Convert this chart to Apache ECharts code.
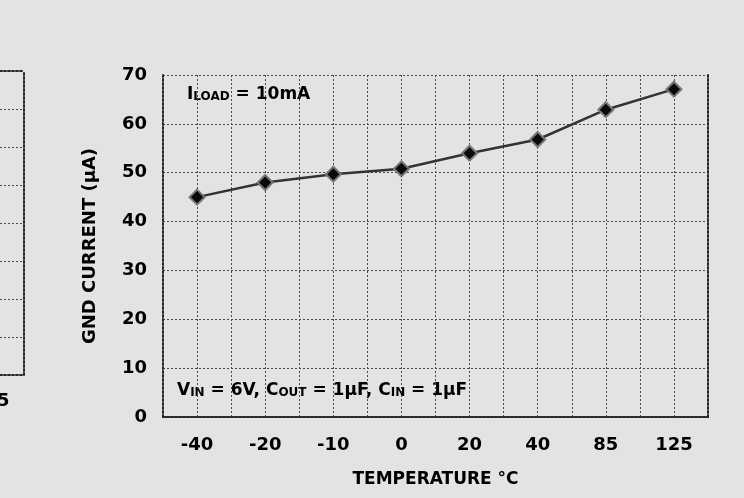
<!DOCTYPE html>
<html>
<head>
<meta charset="utf-8">
<script src="https://cdn.jsdelivr.net/npm/echarts@6/dist/echarts.min.js"></script>
<style>
html,body{margin:0;padding:0;background:#e3e3e3;}
#c{width:744px;height:498px;}
</style>
</head>
<body>
<div id="c"></div>
<script>
// Data
const categories = ['-40', '-20', '-10', '0', '20', '40', '85', '125'];
const gndCurrent = [45.0, 48.0, 49.7, 50.8, 54.0, 56.8, 62.9, 67.1];
const yMin = 0, yMax = 70, yStep = 10;
const xAxisTitle = 'TEMPERATURE \u00B0C';
const yAxisTitle = 'GND CURRENT (\u00B5A)';
const noteLoad = ['I', 'LOAD', ' = 10mA'];
const noteCond = ['V', 'IN', ' = 6V, C', 'OUT', ' = 1\u00B5F, C', 'IN', ' = 1\u00B5F'];
const neighbourLabel = '5';

const FONT = '"DejaVu Sans", Verdana, sans-serif';
const dash = { color: '#4a4a4a', width: 1, type: [2, 2] };
const border = { color: '#262626', width: 2, type: 'dotted' };

function rich(parts) {
  return parts.map((p, i) => (i % 2 === 0 ? '{a|' + p + '}' : '{b|' + p + '}')).join('');
}
const richStyle = {
  a: { fontSize: 17, fontWeight: 'bold', fontFamily: FONT, color: '#000', lineHeight: 20, verticalAlign: 'bottom' },
  b: { fontSize: 12, fontWeight: 'bold', fontFamily: FONT, color: '#000', lineHeight: 15, verticalAlign: 'bottom' }
};

const chart = echarts.init(document.getElementById('c'), null, { renderer: 'canvas' });
chart.setOption({
  backgroundColor: '#e3e3e3',
  animation: false,
  grid: [
    { left: 163, right: 36, top: 75, bottom: 81, containLabel: false, outerBoundsMode: 'none' },
    { left: 0, width: 24, top: 71, height: 304, show: false, outerBoundsMode: 'none' }
  ],
  xAxis: [
    {
      type: 'category', data: categories, gridIndex: 0, boundaryGap: true,
      name: xAxisTitle, nameLocation: 'middle', nameGap: 54,
      nameTextStyle: { fontSize: 17, fontWeight: 'bold', fontFamily: FONT, color: '#000' },
      axisLine: { show: true, lineStyle: border },
      axisTick: { show: false },
      splitLine: { show: false },
      axisLabel: { fontSize: 18, fontWeight: 'bold', fontFamily: FONT, color: '#000', margin: 19 }
    },
    {
      type: 'value', gridIndex: 0, min: 0, max: categories.length * 2, interval: 1,
      position: 'top',
      axisLine: { show: true, lineStyle: border },
      axisTick: { show: false }, axisLabel: { show: false },
      splitLine: { show: true, lineStyle: dash }
    },
    {
      type: 'value', gridIndex: 1, min: 0, max: 1, position: 'bottom',
      axisLine: { show: true, onZero: false, lineStyle: border },
      axisTick: { show: false }, axisLabel: { show: false }, splitLine: { show: false }
    },
    {
      type: 'value', gridIndex: 1, min: 0, max: 1, position: 'top',
      axisLine: { show: true, onZero: false, lineStyle: border },
      axisTick: { show: false }, axisLabel: { show: false }, splitLine: { show: false }
    }
  ],
  yAxis: [
    {
      type: 'value', gridIndex: 0, min: yMin, max: yMax, interval: yStep,
      name: yAxisTitle, nameLocation: 'middle', nameGap: 64,
      nameTextStyle: { fontSize: 18, fontWeight: 'bold', fontFamily: FONT, color: '#000' },
      axisLine: { show: true, lineStyle: border },
      axisTick: { show: false },
      splitLine: { show: true, lineStyle: dash },
      axisLabel: { fontSize: 18, fontWeight: 'bold', fontFamily: FONT, color: '#000', margin: 16 }
    },
    {
      type: 'value', gridIndex: 0, min: yMin, max: yMax, position: 'right',
      axisLine: { show: true, lineStyle: border },
      axisTick: { show: false }, axisLabel: { show: false }, splitLine: { show: false }
    },
    {
      type: 'value', gridIndex: 1, min: 0, max: 8, interval: 1, position: 'right',
      axisLine: { show: true, onZero: false, lineStyle: border },
      axisTick: { show: false }, axisLabel: { show: false },
      splitLine: { show: true, lineStyle: dash }
    }
  ],
  series: [
    {
      type: 'line', xAxisIndex: 0, yAxisIndex: 0, data: gndCurrent,
      lineStyle: { color: '#333', width: 2.5 },
      symbol: 'diamond', symbolSize: 15,
      itemStyle: { color: '#0a0a0a', borderColor: '#777', borderWidth: 2 }
    }
  ],
  graphic: [
    {
      type: 'text', left: 187, top: 86,
      style: { text: rich(noteLoad), rich: richStyle }
    },
    {
      type: 'text', left: 177, top: 382,
      style: { text: rich(noteCond), rich: richStyle }
    },
    {
      type: 'text', left: -3, top: 392,
      style: { text: neighbourLabel, fontSize: 18, fontWeight: 'bold', fontFamily: FONT, fill: '#000' }
    }
  ]
});
</script>
</body>
</html>
